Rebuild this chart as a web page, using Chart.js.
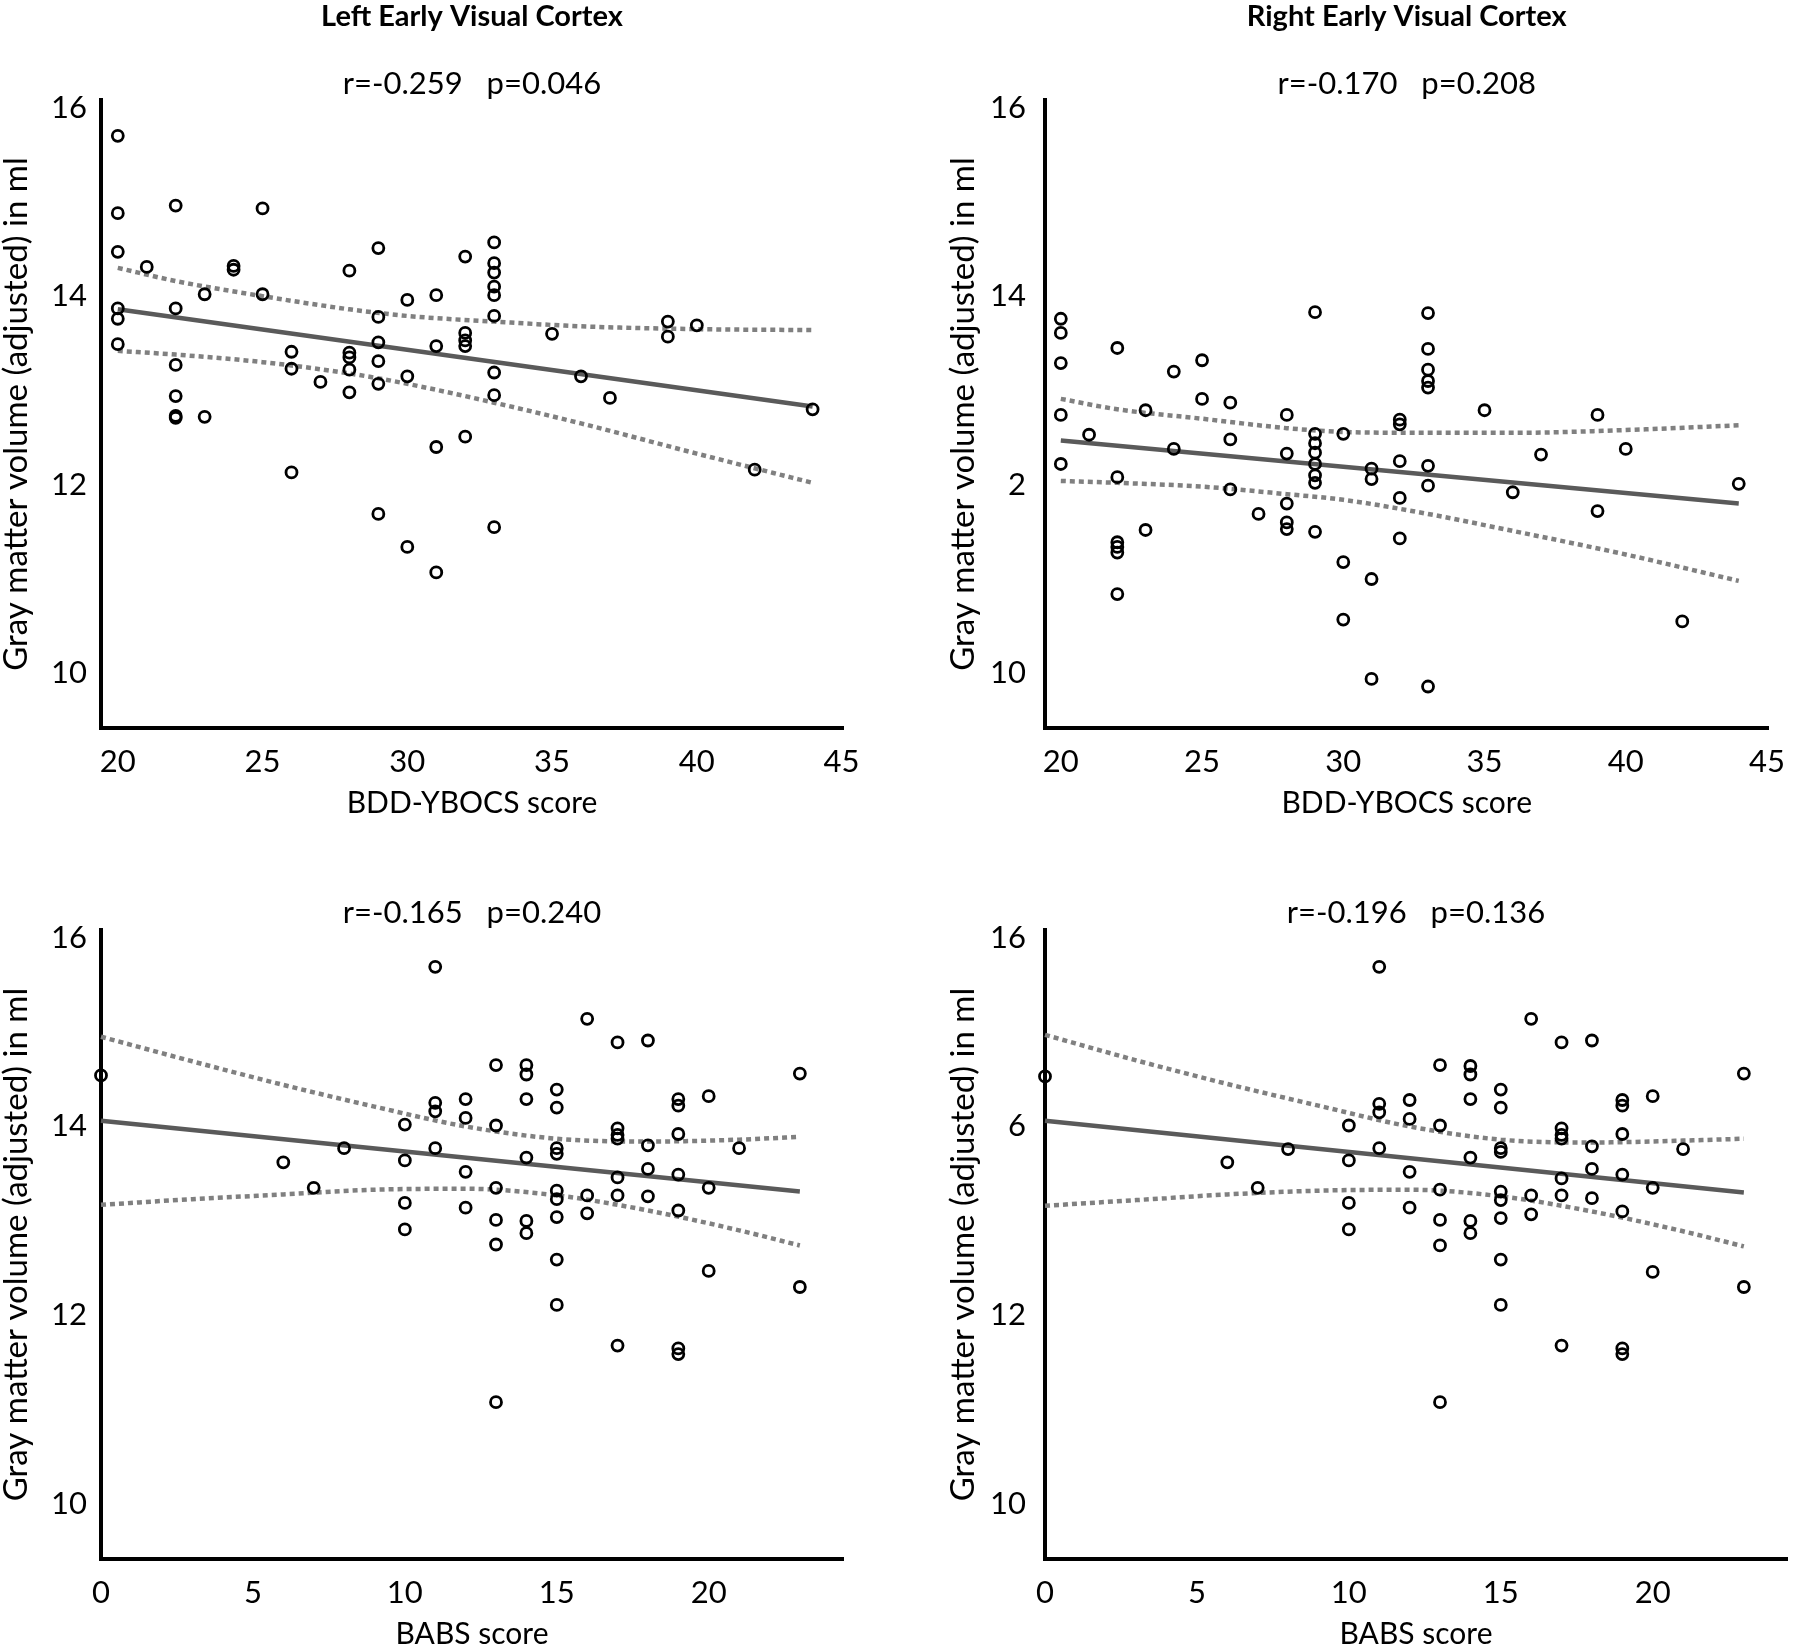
<!DOCTYPE html>
<html>
<head>
<meta charset="utf-8">
<script src="https://cdn.jsdelivr.net/npm/chart.js@4.4.1/dist/chart.umd.min.js"></script>
<style>
html, body { margin: 0; padding: 0; background: #ffffff; }
#wrap { position: relative; width: 1800px; height: 1647px; overflow: hidden; }
canvas { position: absolute; }
</style>
</head>
<body>
<div id="wrap">
  <canvas id="tl" width="900" height="823" style="left:0;top:0"></canvas>
  <canvas id="tr" width="900" height="823" style="left:900px;top:0"></canvas>
  <canvas id="bl" width="900" height="824" style="left:0;top:823px"></canvas>
  <canvas id="br" width="900" height="824" style="left:900px;top:823px"></canvas>
</div>
<script>
// ---------- text ----------
const titleLeft = 'Left Early Visual Cortex';
const titleRight = 'Right Early Visual Cortex';
const statsTL = 'r=-0.259   p=0.046';
const statsTR = 'r=-0.170   p=0.208';
const statsBL = 'r=-0.165   p=0.240';
const statsBR = 'r=-0.196   p=0.136';
const yAxisTitle = 'Gray matter volume (adjusted) in ml';
const xAxisTitleTop = 'BDD-YBOCS score';
const xAxisTitleBottom = 'BABS score';

// ---------- tick labels ----------
const yTickValues = [10, 12, 14, 16];
const yTickLabelsTL = ['10', '12', '14', '16'];
const yTickLabelsTR = ['10', '2', '14', '16'];
const yTickLabelsBL = ['10', '12', '14', '16'];
const yTickLabelsBR = ['10', '12', '6', '16'];
const xTicksTop = [20, 25, 30, 35, 40, 45];
const xTicksBottom = [0, 5, 10, 15, 20];

// ---------- Top-left: BDD-YBOCS vs left EVC ----------
const tlX = [20,20,20,20,20,20, 21, 22,22,22,22,22,22, 23,23, 24,24, 25,25, 26,26,26, 27,
             28,28,28,28,28, 29,29,29,29,29,29, 30,30,30, 31,31,31,31, 32,32,32,32,32,
             33,33,33,33,33,33,33,33,33, 35, 36, 37, 39,39, 40, 42, 44];
const tlY = [15.70,14.88,14.47,13.87,13.76,13.49, 14.31, 14.96,13.87,13.27,12.94,12.73,12.71,
             14.02,12.72, 14.32,14.28, 14.93,14.02, 13.41,13.23,12.13, 13.09,
             14.27,13.40,13.35,13.22,12.98, 14.51,13.78,13.51,13.31,13.07,11.69,
             13.96,13.15,11.34, 14.01,13.47,12.40,11.07, 14.42,13.61,13.53,13.47,12.51,
             14.57,14.35,14.25,14.10,14.01,13.79,13.19,12.95,11.55, 13.60, 13.15, 12.92,
             13.73,13.57, 13.69, 12.16, 12.80];
const tlFitX = [20, 44];
const tlFitY = [13.86, 12.83];
const tlCiX = [20, 22, 25, 28, 30, 33, 36, 40, 44];
const tlCiUpper = [14.30, 14.16, 14.00, 13.86, 13.79, 13.73, 13.68, 13.65, 13.64];
const tlCiLower = [13.42, 13.38, 13.30, 13.18, 13.07, 12.87, 12.65, 12.33, 12.02];

// ---------- Top-right: BDD-YBOCS vs right EVC ----------
const trX = [20,20,20,20,20, 21, 22,22,22,22,22,22, 23,23, 24,24, 25,25, 26,26,26, 27,
             28,28,28,28,28, 29,29,29,29,29,29,29,29, 30,30,30, 31,31,31,31, 32,32,32,32,32,
             33,33,33,33,33,33,33,33, 35, 36, 37, 39,39, 40, 42, 44];
const trY = [13.76,13.61,13.29,12.74,12.22, 12.53, 13.45,12.08,11.39,11.34,11.28,10.84,
             12.79,11.52, 13.20,12.38, 13.32,12.91, 12.87,12.48,11.95, 11.69,
             12.74,12.33,11.80,11.60,11.53, 13.83,12.54,12.44,12.34,12.22,12.10,12.02,11.50,
             12.54,11.18,10.57, 12.17,12.06,11.00,9.94, 12.69,12.64,12.25,11.86,11.43,
             13.82,13.44,13.22,13.10,13.03,12.20,11.99,9.86, 12.79, 11.92, 12.32,
             12.74,11.72, 12.38, 10.55, 12.01];
const trFitX = [20, 44];
const trFitY = [12.47, 11.80];
const trCiX = [20, 22, 25, 28, 30, 33, 36, 40, 44];
const trCiUpper = [12.91, 12.80, 12.70, 12.60, 12.56, 12.55, 12.55, 12.58, 12.63];
const trCiLower = [12.04, 12.02, 11.98, 11.90, 11.84, 11.69, 11.51, 11.26, 10.98];

// ---------- Bottom-left: BABS vs left EVC ----------
const blX = [0, 6, 7, 8, 10,10,10,10, 11,11,11,11, 12,12,12,12, 13,13,13,13,13,13,
             14,14,14,14,14,14, 15,15,15,15,15,15,15,15,15, 16,16,16, 17,17,17,17,17,17,17,
             18,18,18,18, 19,19,19,19,19,19,19, 20,20,20, 21, 23,23];
const blY = [14.54, 13.62, 13.35, 13.77, 14.02,13.64,13.19,12.91, 15.69,14.25,14.16,13.77,
             14.29,14.09,13.52,13.14, 14.65,14.01,13.35,13.01,12.75,11.08,
             14.65,14.55,14.29,13.67,13.00,12.87, 14.39,14.20,13.77,13.71,13.32,13.23,13.04,12.59,12.11,
             15.14,13.27,13.08, 14.89,13.98,13.91,13.87,13.46,13.27,11.68,
             14.91,13.80,13.55,13.26, 14.29,14.22,13.92,13.49,13.11,11.65,11.59,
             14.32,13.35,12.47, 13.77, 14.56,12.30];
const blFitX = [0, 23];
const blFitY = [14.06, 13.31];
const blCiX = [0, 3, 6, 9, 12, 15, 18, 21, 23];
const blCiUpper = [14.95, 14.69, 14.44, 14.21, 14.00, 13.87, 13.84, 13.86, 13.89];
const blCiLower = [13.17, 13.23, 13.28, 13.33, 13.34, 13.27, 13.11, 12.90, 12.74];

// ---------- Bottom-right: BABS vs right EVC ----------
const brX = [0, 6, 7, 8, 10,10,10,10, 11,11,11,11, 12,12,12,12, 13,13,13,13,13,13,
             14,14,14,14,14,14, 15,15,15,15,15,15,15,15,15, 16,16,16, 17,17,17,17,17,17,17,
             18,18,18,18, 19,19,19,19,19,19,19, 20,20,20, 21, 23,23];
const brY = [14.53, 13.62, 13.35, 13.76, 14.01,13.64,13.19,12.91, 15.69,14.24,14.15,13.77,
             14.28,14.08,13.52,13.14, 14.65,14.01,13.33,13.01,12.74,11.08,
             14.64,14.55,14.29,13.67,13.00,12.87, 14.39,14.20,13.77,13.73,13.31,13.22,13.03,12.59,12.11,
             15.14,13.27,13.07, 14.89,13.98,13.91,13.87,13.45,13.27,11.68,
             14.91,13.79,13.55,13.24, 14.28,14.22,13.92,13.49,13.10,11.65,11.59,
             14.32,13.35,12.46, 13.76, 14.56,12.30];
const brFitX = [0, 23];
const brFitY = [14.06, 13.30];
const brCiX = [0, 3, 6, 9, 12, 15, 18, 21, 23];
const brCiUpper = [14.97, 14.70, 14.45, 14.22, 14.00, 13.86, 13.83, 13.85, 13.87];
const brCiLower = [13.16, 13.22, 13.28, 13.32, 13.33, 13.26, 13.10, 12.89, 12.73];

// ---------- drawing ----------
Chart.defaults.font.family = 'Lato, "Open Sans", sans-serif';
Chart.defaults.color = '#000000';

const panelText = {
  id: 'panelText',
  afterDraw(chart, args, opts) {
    const { ctx, chartArea } = chart;
    const cx = (chartArea.left + chartArea.right) / 2;
    ctx.save();
    ctx.fillStyle = '#000000';
    ctx.textAlign = 'center';
    ctx.textBaseline = 'middle';
    if (opts.title) {
      ctx.font = 'bold 29px Lato, "Open Sans", sans-serif';
      ctx.fillText(opts.title, cx, opts.titleY);
    }
    ctx.font = '31px Lato, "Open Sans", sans-serif';
    ctx.fillText(opts.stats, cx, opts.statsY);
    ctx.restore();
  }
};

function pairs(xs, ys) { return xs.map((x, i) => ({ x: x, y: ys[i] })); }

function makePanel(id, c) {
  new Chart(document.getElementById(id), {
    type: 'scatter',
    data: {
      datasets: [
        { data: pairs(c.xs, c.ys), showLine: false, pointStyle: 'circle', pointRadius: 5.5,
          borderWidth: 2.8, borderColor: '#000000', backgroundColor: 'rgba(0,0,0,0)', clip: false },
        { data: pairs(c.fitX, c.fitY), showLine: true, pointRadius: 0, borderColor: '#5a5a5a',
          borderWidth: 4.5, clip: false },
        { data: pairs(c.ciX, c.ciUp), showLine: true, pointRadius: 0, borderColor: '#808080',
          borderWidth: 4.5, borderDash: [5, 4], cubicInterpolationMode: 'monotone', clip: false },
        { data: pairs(c.ciX, c.ciLo), showLine: true, pointRadius: 0, borderColor: '#808080',
          borderWidth: 4.5, borderDash: [5, 4], cubicInterpolationMode: 'monotone', clip: false }
      ]
    },
    options: {
      responsive: false,
      animation: false,
      events: [],
      layout: { padding: { left: c.padL, right: c.padR, top: c.padT, bottom: 0 } },
      plugins: {
        legend: { display: false },
        tooltip: { enabled: false },
        panelText: { title: c.title, titleY: c.titleY, stats: c.stats, statsY: c.statsY }
      },
      scales: {
        x: {
          type: 'linear', min: c.xMin, max: c.xMax,
          grid: { display: false, drawTicks: false },
          border: { display: true, color: '#000000', width: 4 },
          afterBuildTicks: s => { s.ticks = c.xTicks.map(v => ({ value: v })); },
          afterFit: s => { s.height = c.xH; },
          ticks: { autoSkip: false, maxRotation: 0, padding: 15, color: '#000000',
                   font: { size: 31 }, callback: v => String(v) },
          title: { display: true, text: c.xTitle, color: '#000000',
                   font: { size: 30, lineHeight: 0.85 }, padding: { top: 0, bottom: c.xTitlePad } }
        },
        y: {
          type: 'linear', min: 9.42, max: 16.08,
          grid: { display: false, drawTicks: false },
          border: { display: true, color: '#000000', width: 4 },
          afterBuildTicks: s => { s.ticks = yTickValues.map(v => ({ value: v })); },
          afterFit: s => { s.width = c.yW; },
          ticks: { autoSkip: false, padding: c.yTickPad, color: '#000000', font: { size: 31 },
                   callback: (v, i) => c.yLabels[i] },
          title: { display: true, text: yAxisTitle, color: '#000000',
                   font: { size: 33, lineHeight: 0.85 }, padding: { top: 2, bottom: 0 } }
        }
      }
    },
    plugins: [panelText]
  });
}

makePanel('tl', { xs: tlX, ys: tlY, fitX: tlFitX, fitY: tlFitY, ciX: tlCiX, ciUp: tlCiUpper, ciLo: tlCiLower,
  xMin: 19.42, xMax: 45.05, xTicks: xTicksTop, xTitle: xAxisTitleTop, yLabels: yTickLabelsTL,
  padL: 0, padR: 57, padT: 100, yW: 101, xH: 95, yTickPad: 14, xTitlePad: 7,
  title: titleLeft, titleY: 17, stats: statsTL, statsY: 84 });

makePanel('tr', { xs: trX, ys: trY, fitX: trFitX, fitY: trFitY, ciX: trCiX, ciUp: trCiUpper, ciLo: trCiLower,
  xMin: 19.44, xMax: 45.05, xTicks: xTicksTop, xTitle: xAxisTitleTop, yLabels: yTickLabelsTR,
  padL: 47, padR: 13, padT: 100, yW: 98, xH: 95, yTickPad: 19, xTitlePad: 7,
  title: titleRight, titleY: 17, stats: statsTR, statsY: 84 });

makePanel('bl', { xs: blX, ys: blY, fitX: blFitX, fitY: blFitY, ciX: blCiX, ciUp: blCiUpper, ciLo: blCiLower,
  xMin: 0, xMax: 24.42, xTicks: xTicksBottom, xTitle: xAxisTitleBottom, yLabels: yTickLabelsBL,
  padL: 0, padR: 57, padT: 107, yW: 101, xH: 88, yTickPad: 14, xTitlePad: 0,
  title: null, titleY: 0, stats: statsBL, statsY: 90 });

makePanel('br', { xs: brX, ys: brY, fitX: brFitX, fitY: brFitY, ciX: brCiX, ciUp: brCiUpper, ciLo: brCiLower,
  xMin: 0, xMax: 24.42, xTicks: xTicksBottom, xTitle: xAxisTitleBottom, yLabels: yTickLabelsBR,
  padL: 47, padR: 13, padT: 107, yW: 98, xH: 88, yTickPad: 19, xTitlePad: 0,
  title: null, titleY: 0, stats: statsBR, statsY: 90 });
</script>
</body>
</html>
